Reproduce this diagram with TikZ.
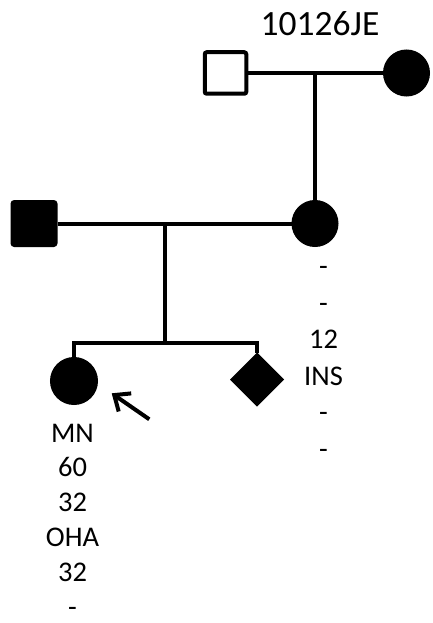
\documentclass[tikz,border=0pt]{standalone}
\usepackage{fontspec}
\setmainfont{Carlito}
\usetikzlibrary{shapes.geometric,arrows.meta}
\begin{document}
\begin{tikzpicture}[x=1pt,y=-1pt,
  conn/.style={line width=4pt,line join=miter},
  openmale/.style={draw,line width=4pt,rounded corners=2pt,minimum size=41.5pt,inner sep=0pt,fill=white},
  affmale/.style={draw,fill=black,line width=4pt,rounded corners=2pt,minimum size=43pt,inner sep=0pt},
  afffemale/.style={circle,draw,fill=black,line width=4pt,minimum size=43pt,inner sep=0pt},
  affunk/.style={diamond,draw,fill=black,line width=4pt,minimum width=50pt,minimum height=50pt,inner sep=0pt},
  lbl/.style={anchor=base,inner sep=0pt,font=\fontsize{28.5pt}{33pt}\selectfont},
  toplbl/.style={anchor=base,inner sep=0pt,font=\fontsize{35.5pt}{40pt}\selectfont},
  proband/.style={line width=4pt,-{Straight Barb[length=13pt,width=22pt]}}]
\useasboundingbox (0,0) rectangle (433,623);

% individuals
\node[openmale] (gf) at (225.5,73) {};
\node[afffemale] (gm) at (406.5,73) {};
\node[affmale] (fa) at (34,223.5) {};
\node[afffemale] (mo) at (315,223.5) {};
\node[afffemale,minimum size=44pt] (pb) at (74,381) {};
\node[affunk] (sib) at (257,379.5) {};

% family label
\node[toplbl] (fam) at (320,35.7) {10126JE};

% connectors
\coordinate (m1) at (315,73);
\draw[conn] (gf.east) -- (gm.west);
\draw[conn] (m1) -- (mo.north);
\draw[conn] (fa.east) -- (mo.west);
\coordinate (m2) at (165,223.5);
\coordinate (sc) at (165,342.5);
\coordinate (sl) at (74,342.5);
\coordinate (sr) at (257,342.5);
\draw[conn] (m2) -- (sc);
\draw[conn] (pb.north) -- (sl) -- (sr) -- (sib.north);

% proband arrow
\coordinate (arT) at (149.3,419.3);
\coordinate (arH) at (111.7,393.3);
\draw[proband] (arT) -- (arH);

% mother's data
\foreach \t [count=\i] in {-,-,12,INS,-,-}
  \node[lbl] (mt\i) at (323.5,{275.5+36.5*(\i-1)}) {\t};

% proband's data
\foreach \t [count=\i] in {MN,60,32,OHA,32,-}
  \node[lbl] (pt\i) at (72.5,{442+34.8*(\i-1)}) {\t};
\end{tikzpicture}
\end{document}
